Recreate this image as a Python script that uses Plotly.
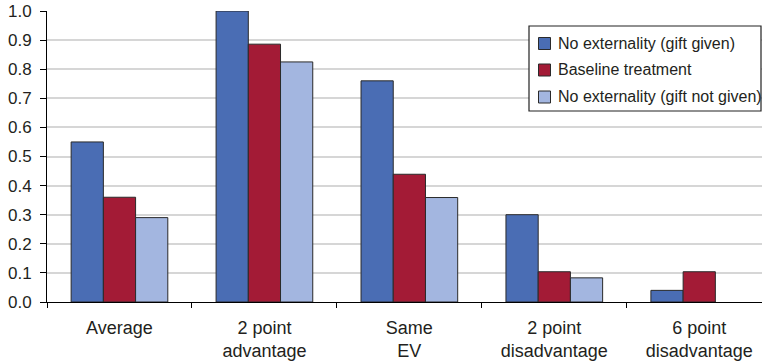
import plotly.graph_objects as go

categories = ["Average", "2 point<br>advantage", "Same<br>EV", "2 point<br>disadvantage", "6 point<br>disadvantage"]
series_names = ["No externality (gift given)", "Baseline treatment", "No externality (gift not given)"]
gift_given = [0.55, 1.00, 0.76, 0.30, 0.04]
baseline = [0.36, 0.886, 0.439, 0.104, 0.104]
gift_not_given = [0.29, 0.825, 0.359, 0.083, None]
y_ticks = [0.0, 0.1, 0.2, 0.3, 0.4, 0.5, 0.6, 0.7, 0.8, 0.9, 1.0]

colors = ["#4a6db4", "#a31b36", "#a3b6e0"]
FONT = "Liberation Sans, Arial, Helvetica, sans-serif"
TXT = "#231f20"

W, H = 762, 362
ML, MR, MT, MB = 47, 0, 11, 60
PW, PH = W - ML - MR, H - MT - MB

def px_x(px):
    return (px - ML) / PW

def px_y(py):
    return (H - MB - py) / PH

fig = go.Figure()
for name, vals, col in zip(series_names, [gift_given, baseline, gift_not_given], colors):
    fig.add_trace(go.Bar(
        x=categories, y=vals, name=name, showlegend=False,
        marker=dict(color=col, line=dict(color="#2a2a2a", width=1)),
    ))

# legend box drawn as shapes + text
shapes = [dict(type="rect", xref="paper", yref="paper",
               x0=px_x(529), x1=px_x(761), y0=px_y(111), y1=px_y(26),
               line=dict(color="#222222", width=1.2), fillcolor="white", layer="above")]
annotations = []
row_centers = [43.5, 70, 97]
for name, col, rc in zip(series_names, colors, row_centers):
    shapes.append(dict(type="rect", xref="paper", yref="paper",
                       x0=px_x(538.5), x1=px_x(550.5), y0=px_y(rc + 6), y1=px_y(rc - 6),
                       line=dict(color="#2a2a2a", width=1), fillcolor=col, layer="above"))
    annotations.append(dict(xref="paper", yref="paper", x=px_x(556), y=px_y(rc),
                            xanchor="left", yanchor="middle", text=name, showarrow=False,
                            font=dict(family=FONT, size=16, color=TXT)))

fig.update_layout(
    width=W, height=H,
    margin=dict(l=ML, r=MR, t=MT, b=MB),
    paper_bgcolor="white", plot_bgcolor="white",
    barmode="group", bargap=0.333, bargroupgap=0,
    font=dict(family=FONT, size=17, color=TXT),
    showlegend=False,
    shapes=shapes, annotations=annotations,
    xaxis=dict(
        type="category", range=[-0.5, 4.433], automargin=False,
        showline=True, linecolor="black", linewidth=1,
        ticks="outside", ticklen=5, tickcolor="black", tickson="boundaries",
        showgrid=False, zeroline=False,
        tickfont=dict(family=FONT, size=18, color=TXT),
        ticklabelstandoff=9,
    ),
    yaxis=dict(
        range=[0, 1.0], tickvals=y_ticks, ticktext=[f"{v:.1f}" for v in y_ticks],
        automargin=False,
        showline=True, linecolor="black", linewidth=1,
        ticks="outside", ticklen=6, tickcolor="black",
        showgrid=True, gridcolor="#d6d6d6", gridwidth=1.5,
        zeroline=False,
        tickfont=dict(family=FONT, size=17, color=TXT),
        ticklabelstandoff=5,
    ),
)

fig.write_html("out.html", config={"displayModeBar": False},
               post_script="document.body.style.margin='0';")
